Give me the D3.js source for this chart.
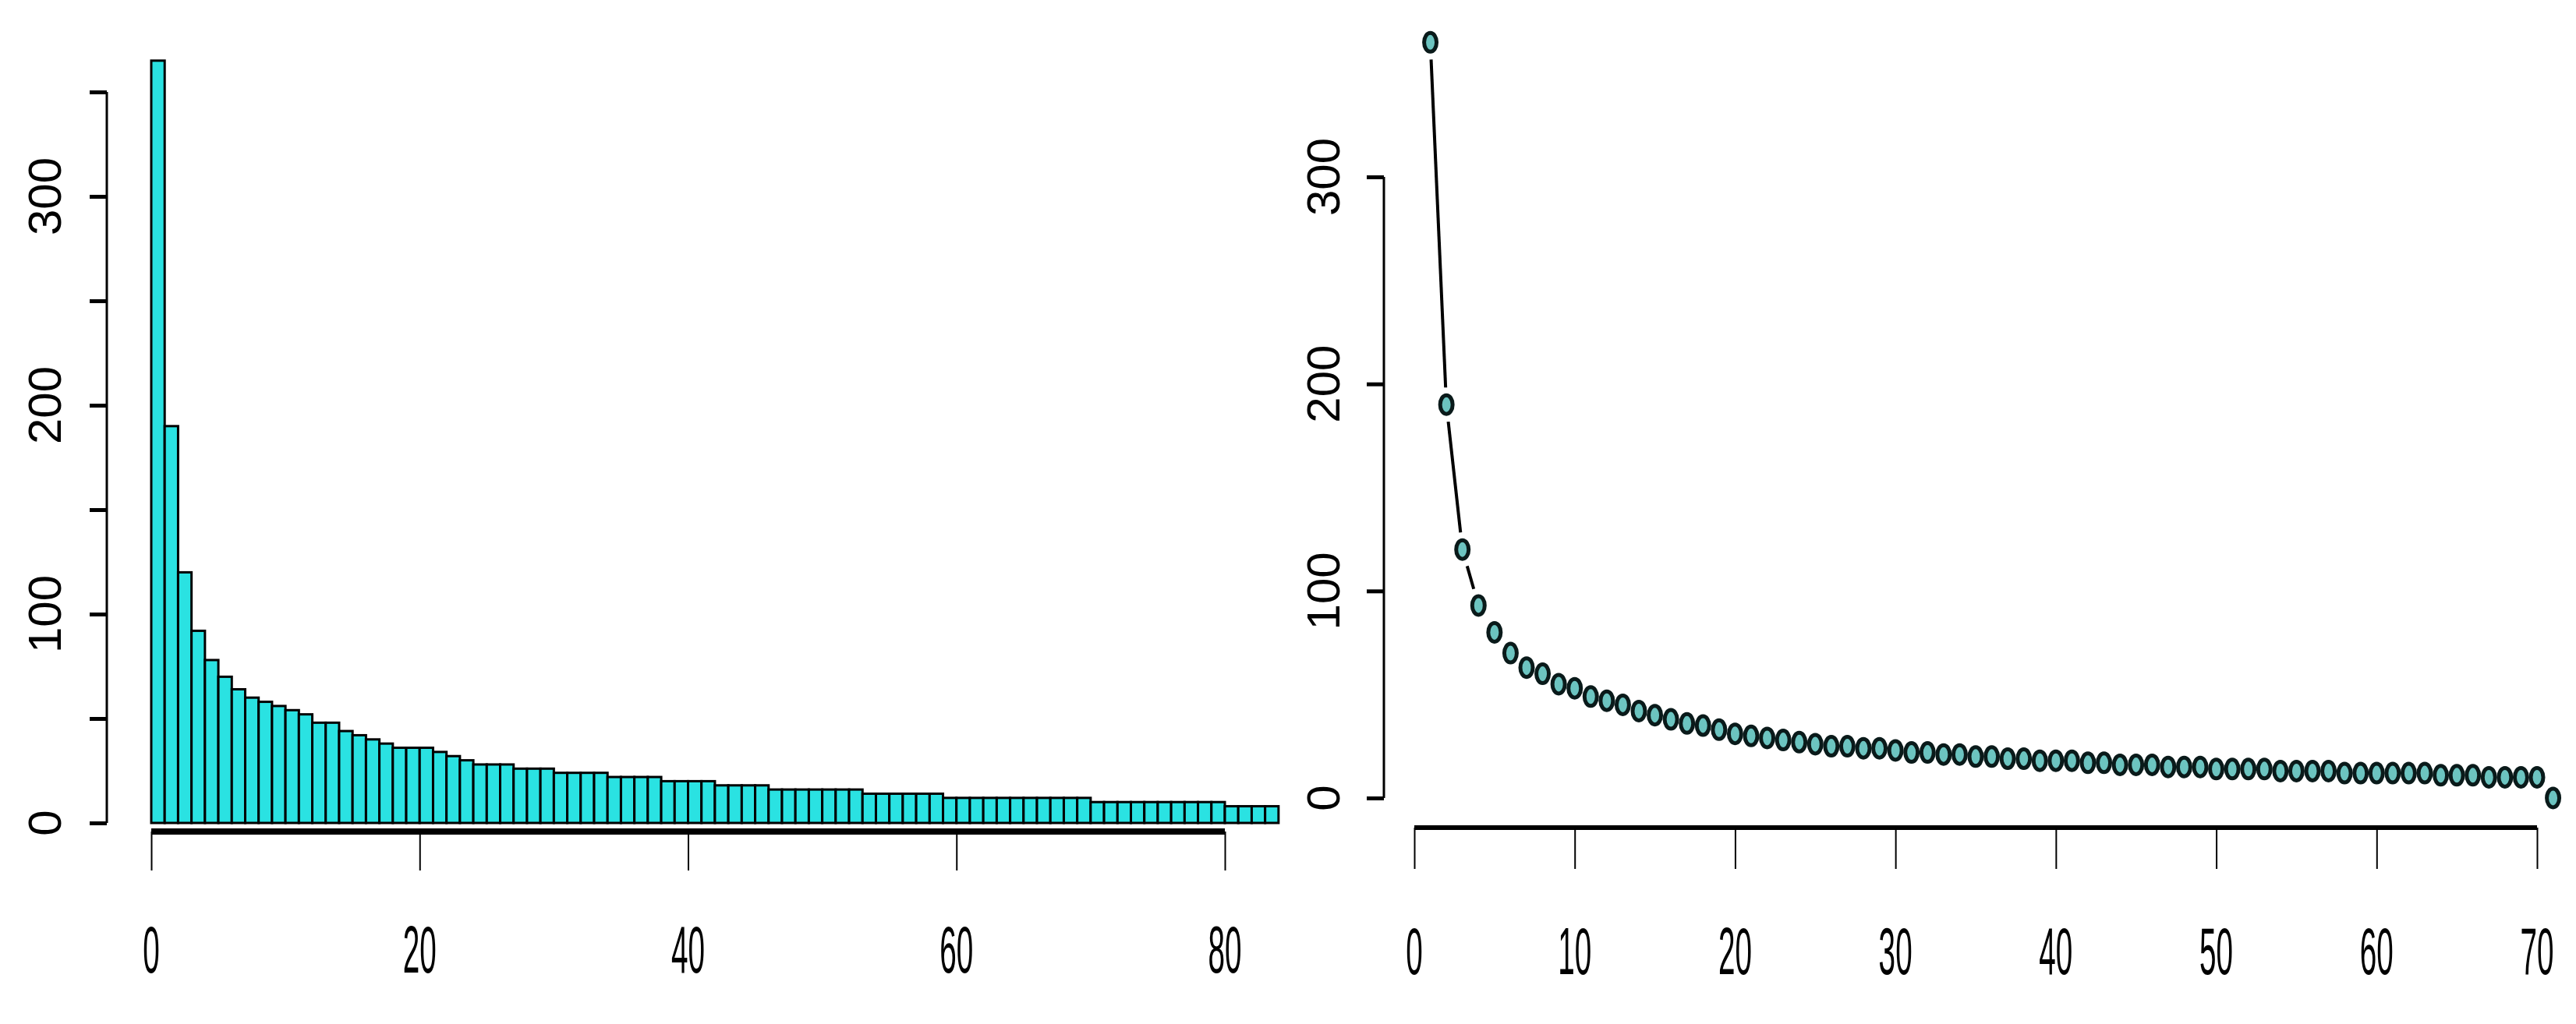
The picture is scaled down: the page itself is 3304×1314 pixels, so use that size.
<!DOCTYPE html>
<html>
<head>
<meta charset="utf-8">
<script src="https://cdn.jsdelivr.net/npm/d3@7"></script>
<style>
  body { margin: 0; background: #fff; }
  text { font-family: "Liberation Sans", Arial, sans-serif; fill: #000; }
</style>
</head>
<body>
<svg id="chart" width="3304" height="1314"></svg>
<script>
// left panel: bar heights, one per rank
const barValues = [
  365, 190, 120, 92, 78, 70, 64, 60, 58, 56, 54, 52, 48, 48, 44, 42, 40, 38, 36, 36,
  36, 34, 32, 30, 28, 28, 28, 26, 26, 26, 24, 24, 24, 24, 22, 22, 22, 22, 20, 20,
  20, 20, 18, 18, 18, 18, 16, 16, 16, 16, 16, 16, 16, 14, 14, 14, 14, 14, 14, 12,
  12, 12, 12, 12, 12, 12, 12, 12, 12, 12, 10, 10, 10, 10, 10, 10, 10, 10, 10, 10,
  8, 8, 8, 8
];
const leftXTicks = [0, 20, 40, 60, 80];
const leftYTicks = [0, 50, 100, 150, 200, 250, 300, 350];
const leftYLabels = [0, 100, 200, 300];

// right panel: points at x = 1..71
const pointValues = [
  365, 190, 120, 93, 80, 70, 63, 60, 55, 53,
  49, 47, 45, 42, 40, 38, 36, 35, 33, 31,
  30, 29, 28, 27, 26, 25, 25, 24, 24, 23,
  22, 22, 21, 21, 20, 20, 19, 19, 18, 18,
  18, 17, 17, 16, 16, 16, 15, 15, 15, 14,
  14, 14, 14, 13, 13, 13, 13, 12, 12, 12,
  12, 12, 12, 11, 11, 11, 10, 10, 10, 10,
  0
];
const rightXTicks = [0, 10, 20, 30, 40, 50, 60, 70];
const rightYTicks = [0, 100, 200, 300];

const svg = d3.select("#chart");

// ---------- left: bar chart ----------
const xL = d3.scaleLinear().domain([0, 80]).range([194, 1571]);
const yL = d3.scaleLinear().domain([0, 300]).range([1056, 252]);

svg.append("g").selectAll("rect")
  .data(barValues)
  .join("rect")
  .attr("x", (d, i) => xL(i))
  .attr("y", d => yL(d))
  .attr("width", xL(1) - xL(0))
  .attr("height", d => yL(0) - yL(d))
  .attr("fill", "#2ae2e2")
  .attr("stroke", "#000")
  .attr("stroke-width", 3);

const lAxisY = svg.append("g").attr("transform", "translate(137,0)")
  .call(d3.axisLeft(yL).tickValues(leftYTicks).tickSize(22).tickFormat(""));
lAxisY.select(".domain").attr("stroke-width", 3).attr("d", `M0,${yL(0)}V${yL(350)}`);
lAxisY.selectAll(".tick line").attr("stroke-width", 5);

svg.append("g").selectAll("text")
  .data(leftYLabels)
  .join("text")
  .attr("transform", d => `translate(78,${yL(d)}) rotate(-90)`)
  .attr("text-anchor", "middle")
  .attr("font-size", 60)
  .text(d => d);

const lAxisX = svg.append("g").attr("transform", "translate(0,1067)")
  .call(d3.axisBottom(xL).tickValues(leftXTicks).tickSize(50).tickFormat(""));
lAxisX.select(".domain").attr("stroke-width", 8).attr("d", `M${xL(0)},0H${xL(80)}`);
lAxisX.selectAll(".tick line").attr("stroke-width", 2);

svg.append("g").selectAll("text")
  .data(leftXTicks)
  .join("text")
  .attr("transform", d => `translate(${xL(d)},1248) scale(0.45,1)`)
  .attr("text-anchor", "middle")
  .attr("font-size", 86)
  .text(d => d);

// ---------- right: points with broken lines ----------
const xR = d3.scaleLinear().domain([0, 70]).range([1814, 3254]);
const yR = d3.scaleLinear().domain([0, 300]).range([1024, 227]);

const pts = pointValues.map((v, i) => ({ x: xR(i + 1), y: yR(v) }));
const gap = 22;
const segs = [];
for (let i = 0; i < pts.length - 1; i++) {
  const a = pts[i], b = pts[i + 1];
  const len = Math.hypot(b.x - a.x, b.y - a.y);
  if (len > 2 * gap + 4) {
    const ux = (b.x - a.x) / len, uy = (b.y - a.y) / len;
    segs.push([a.x + ux * gap, a.y + uy * gap, b.x - ux * gap, b.y - uy * gap]);
  }
}
svg.append("g").selectAll("line")
  .data(segs)
  .join("line")
  .attr("x1", d => d[0]).attr("y1", d => d[1])
  .attr("x2", d => d[2]).attr("y2", d => d[3])
  .attr("stroke", "#000")
  .attr("stroke-width", 4);

svg.append("g").selectAll("ellipse")
  .data(pointValues)
  .join("ellipse")
  .attr("cx", (d, i) => xR(i + 1))
  .attr("cy", d => yR(d))
  .attr("rx", 8)
  .attr("ry", 12)
  .attr("fill", "#6cc4c0")
  .attr("stroke", "#0a1a1a")
  .attr("stroke-width", 5);

const rAxisY = svg.append("g").attr("transform", "translate(1775,0)")
  .call(d3.axisLeft(yR).tickValues(rightYTicks).tickSize(22).tickFormat(""));
rAxisY.select(".domain").attr("stroke-width", 3).attr("d", `M0,${yR(0)}V${yR(300)}`);
rAxisY.selectAll(".tick line").attr("stroke-width", 5);

svg.append("g").selectAll("text")
  .data(rightYTicks)
  .join("text")
  .attr("transform", d => `translate(1718,${yR(d)}) rotate(-90)`)
  .attr("text-anchor", "middle")
  .attr("font-size", 60)
  .text(d => d);

const rAxisX = svg.append("g").attr("transform", "translate(0,1062)")
  .call(d3.axisBottom(xR).tickValues(rightXTicks).tickSize(53).tickFormat(""));
rAxisX.select(".domain").attr("stroke-width", 6).attr("d", `M${xR(0)},0H${xR(70)}`);
rAxisX.selectAll(".tick line").attr("stroke-width", 2);

svg.append("g").selectAll("text")
  .data(rightXTicks)
  .join("text")
  .attr("transform", d => `translate(${xR(d)},1250) scale(0.45,1)`)
  .attr("text-anchor", "middle")
  .attr("font-size", 86)
  .text(d => d);
</script>
</body>
</html>
